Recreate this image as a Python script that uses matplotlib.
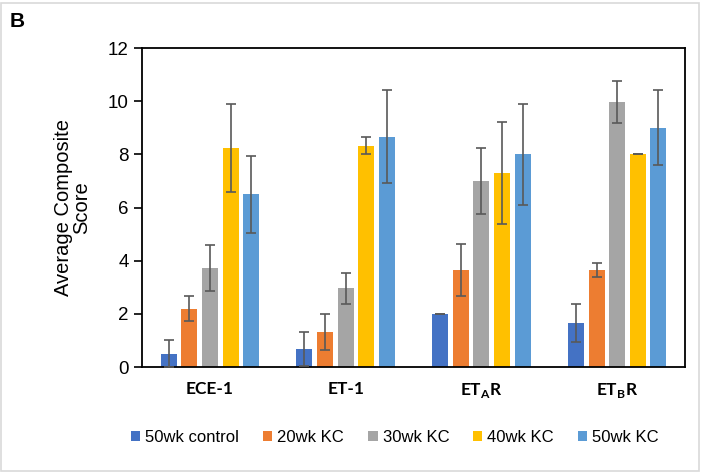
import numpy as np
import matplotlib.pyplot as plt
from matplotlib.patches import Rectangle

plt.rcParams['font.family'] = ['Liberation Sans', 'DejaVu Sans']
plt.rcParams['mathtext.fontset'] = 'custom'
plt.rcParams['mathtext.bf'] = 'Lato:bold'
plt.rcParams['mathtext.rm'] = 'Lato'

# categories (genes) and groups
categorias = ['ECE-1', 'ET-1', r'ET$_\mathbf{A}$R', r'ET$_\mathbf{B}$R']
grupos = ['50wk control', '20wk KC', '30wk KC', '40wk KC', '50wk KC']
cores = ['#4472C4', '#ED7D31', '#A5A5A5', '#FFC000', '#5B9BD5']

# médias por grupo (uma lista por grupo, na ordem das categorias)
control_50 = [0.5, 0.67, 2.0, 1.67]
kc_20 = [2.2, 1.33, 3.65, 3.65]
kc_30 = [3.72, 2.97, 7.0, 9.97]
kc_40 = [8.25, 8.33, 7.3, 8.0]
kc_50 = [6.5, 8.67, 8.0, 9.0]

# erros (desvio)
err_control_50 = [0.5, 0.63, 0.0, 0.72]
err_kc_20 = [0.47, 0.67, 0.97, 0.27]
err_kc_30 = [0.86, 0.58, 1.25, 0.8]
err_kc_40 = [1.65, 0.33, 1.92, 0.0]
err_kc_50 = [1.45, 1.75, 1.9, 1.41]

medias = [control_50, kc_20, kc_30, kc_40, kc_50]
erros = [err_control_50, err_kc_20, err_kc_30, err_kc_40, err_kc_50]

fig = plt.figure(figsize=(7.08, 4.73), dpi=100)
ax = fig.add_axes([0.2006, 0.224, 0.767, 0.6745])

x = np.arange(len(categorias))
passo = 0.152
largura = 0.118
for i, (m, e) in enumerate(zip(medias, erros)):
    pos = x + (i - 2) * passo
    ax.bar(pos, m, largura, color=cores[i], label=grupos[i], zorder=2)
    ax.errorbar(pos, m, yerr=e, fmt='none', ecolor='#595959', elinewidth=1.2,
                capsize=3.5, capthick=1.2, zorder=3)

ax.set_xlim(-0.5, 3.5)
ax.set_ylim(0, 12)
ax.set_yticks(range(0, 13, 2))
ax.tick_params(axis='y', labelsize=13.5, direction='out', length=6, width=1.2)
ax.tick_params(axis='x', length=0, pad=10)
ax.set_xticks(x)
ax.set_xticklabels(categorias, fontsize=12.5, fontweight='bold', family='Lato')
for s in ax.spines.values():
    s.set_linewidth(1.3)
ax.set_ylabel('Average Composite\nScore', fontsize=14.5, labelpad=12, linespacing=0.95)

fig.legend(loc='center', bbox_to_anchor=(0.558, 0.076), ncol=5, frameon=False,
           fontsize=12, handlelength=0.55, handleheight=0.55,
           handletextpad=0.3, columnspacing=1.45)

fig.text(0.014, 0.955, 'B', fontsize=15, fontweight='bold', va='center')
fig.patches.append(Rectangle((0.002, 0.004), 0.985, 0.99, transform=fig.transFigure,
                             fill=False, edgecolor='#d9d9d9', linewidth=1.2))

fig.savefig('out.png', dpi=100)
